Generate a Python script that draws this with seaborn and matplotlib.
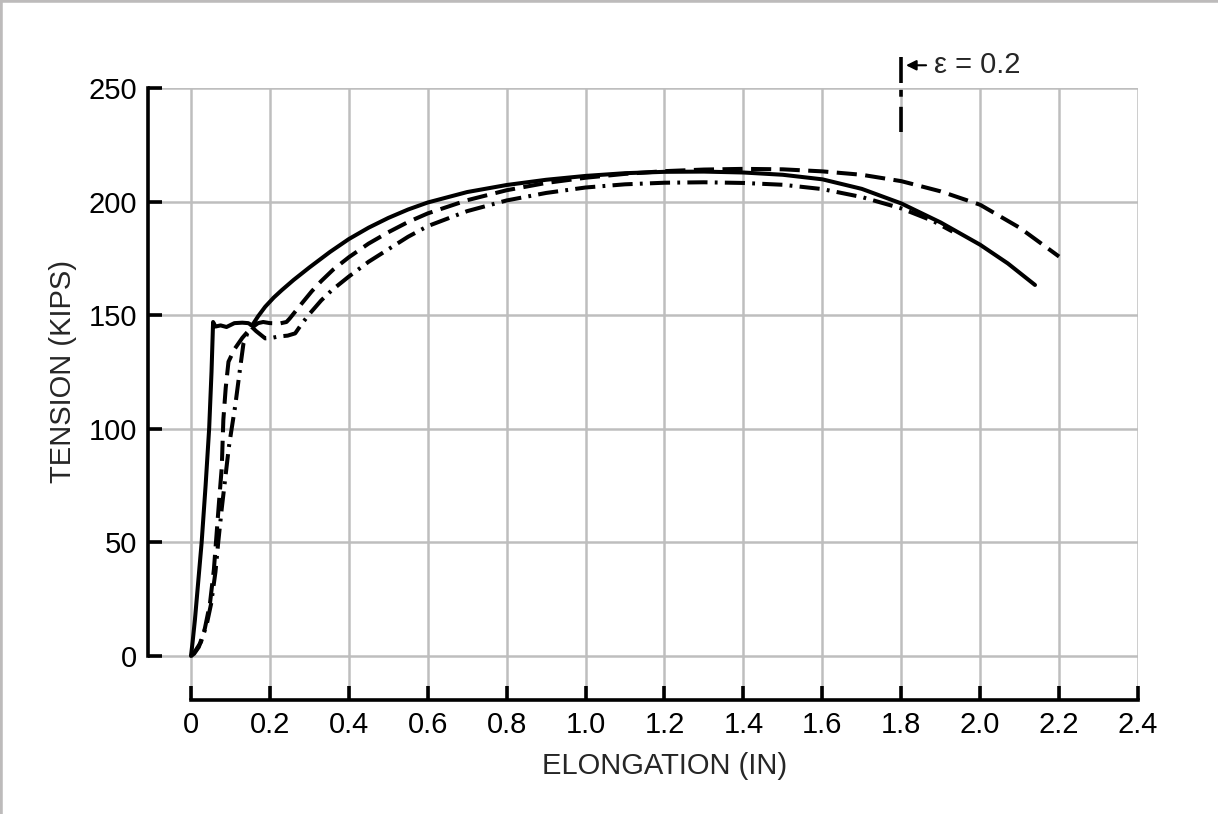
import pandas as pd
import seaborn as sns
import matplotlib.pyplot as plt
from matplotlib.lines import Line2D

# Tension vs. elongation
solid_x = [0, 0.004, 0.01, 0.018, 0.027, 0.037, 0.046, 0.052, 0.056, 0.062, 0.075, 0.09,
           0.11, 0.13, 0.145, 0.155, 0.17, 0.188, 0.21, 0.23, 0.26, 0.3, 0.352, 0.4, 0.45,
           0.5, 0.55, 0.6, 0.7, 0.8, 0.9, 1.0, 1.1, 1.2, 1.3, 1.4, 1.5, 1.6, 1.7, 1.8, 1.9,
           2.0, 2.07, 2.139]
solid_y = [0, 6, 16, 32, 50, 75, 100, 125, 147, 145, 145.5, 144.8,
           146.5, 146.7, 146.5, 145.5, 149.5, 153.7, 157.8, 161, 165.5, 171, 177.8, 183.5, 188.5,
           192.8, 196.5, 199.6, 204.2, 207.3, 209.6, 211.3, 212.5, 213.1, 213.2, 212.8, 211.8,
           209.8, 205.6, 199.2, 190.8, 181, 172.8, 163.3]

dashed_x = [0, 0.008, 0.02, 0.035, 0.048, 0.058, 0.065, 0.072, 0.078, 0.082, 0.088, 0.095,
            0.11, 0.13, 0.15, 0.17, 0.183, 0.2, 0.226, 0.242, 0.25, 0.28, 0.306, 0.33, 0.36,
            0.4, 0.45, 0.5, 0.55, 0.6, 0.7, 0.8, 0.9, 1.0, 1.1, 1.2, 1.3, 1.4, 1.5, 1.6, 1.7,
            1.8, 1.9, 2.0, 2.1, 2.2]
dashed_y = [0, 1, 4, 12, 23, 38, 54, 70, 83, 104, 118, 129.5,
            135, 140, 144, 146.5, 147, 146.5, 146.4, 147, 148.5, 155, 160.5, 165, 170,
            175.5, 181.5, 186.5, 191, 194.8, 200.6, 205, 208.2, 210.5, 212.2, 213.4, 214.1,
            214.4, 214.2, 213.3, 211.8, 209, 204.5, 198.6, 188.5, 175.8]

dashdot_x = [0, 0.01, 0.025, 0.04, 0.051, 0.062, 0.069, 0.078, 0.088, 0.096, 0.103, 0.112,
             0.124, 0.133, 0.145, 0.153, 0.165, 0.188, 0.205, 0.221, 0.245, 0.264, 0.28, 0.3,
             0.33, 0.357, 0.4, 0.45, 0.5, 0.55, 0.6, 0.7, 0.8, 0.9, 1.0, 1.1, 1.2, 1.3, 1.4,
             1.5, 1.6, 1.7, 1.8, 1.88, 1.93]
dashdot_y = [0, 2, 6, 14, 23, 37, 50, 65, 80, 92, 100, 110,
             126, 137.6, 143, 145, 143, 139.8, 140, 140.6, 141, 142, 146, 150.5,
             156.5, 161, 167, 173.5, 179, 184.5, 189.2, 195.8, 200.5, 203.8, 206.2, 207.6,
             208.3, 208.5, 208.2, 207.4, 205.5, 202, 197, 191.5, 186.8]

x_ticks = [0, 0.2, 0.4, 0.6, 0.8, 1.0, 1.2, 1.4, 1.6, 1.8, 2.0, 2.2, 2.4]
x_tick_labels = ['0', '0.2', '0.4', '0.6', '0.8', '1.0', '1.2', '1.4', '1.6', '1.8', '2.0', '2.2', '2.4']
y_ticks = [0, 50, 100, 150, 200, 250]

strain_mark_x = 1.8
strain_label = 'ε = 0.2'

df = pd.concat([
    pd.DataFrame({'elong': solid_x, 'tension': solid_y, 'record': 'solid'}),
    pd.DataFrame({'elong': dashed_x, 'tension': dashed_y, 'record': 'dashed'}),
    pd.DataFrame({'elong': dashdot_x, 'tension': dashdot_y, 'record': 'dashdot'}),
])

sns.set_style('white')
plt.rcParams['font.family'] = ['Liberation Sans', 'DejaVu Sans']

fig = plt.figure(figsize=(12.18, 8.14), dpi=100)
ax = fig.add_axes([0.1215, 0.14, 0.8128, 0.7519])

sns.lineplot(data=df, x='elong', y='tension', style='record', sort=False, estimator=None,
             dashes={'solid': '', 'dashed': (5.0, 2.1), 'dashdot': (5.0, 1.8, 0.7, 1.8)},
             color='black', lw=2.9, legend=False, ax=ax)

ax.set_xlim(-0.109, 2.4)
ax.set_ylim(-19.4, 250)
ax.set_xticks(x_ticks)
ax.set_xticklabels(x_tick_labels)
ax.set_yticks(y_ticks)
ax.set_axisbelow(True)
ax.grid(True, color='#bebebe', lw=1.8)

for side in ['top', 'right']:
    ax.spines[side].set_visible(False)
ax.spines['left'].set_bounds(0, 250)
ax.spines['bottom'].set_bounds(0, 2.4)
for side in ['left', 'bottom']:
    ax.spines[side].set_linewidth(2.6)
    ax.spines[side].set_color('black')

ax.tick_params(bottom=True, left=True, direction='in', length=10, width=2.6, color='black',
               labelsize=21, labelcolor='black', pad=8)

ax.set_xlabel('ELONGATION (IN)', fontsize=21, labelpad=9, x=0.522)
ax.set_ylabel('TENSION (KIPS)', fontsize=21, labelpad=8, y=0.536)

# strain marker above the plot (drawn top to bottom: long, short, long)
ax.plot([strain_mark_x, strain_mark_x], [263.6, 230.6], color='black', lw=2.6,
        dashes=(7.2, 1.9, 1.9, 2.8), clip_on=False)
ax.annotate('', xy=(strain_mark_x + 0.005, 260), xytext=(strain_mark_x + 0.07, 260),
            arrowprops=dict(arrowstyle='-|>', color='black', lw=1.5, mutation_scale=15),
            annotation_clip=False)
ax.text(strain_mark_x + 0.082, 260, strain_label, fontsize=21, va='center', ha='left')

# grey frame on the top and left edge
fig.add_artist(Line2D([0, 1], [1, 1], transform=fig.transFigure, color='#bdbbbb', lw=4))
fig.add_artist(Line2D([0, 0], [0, 1], transform=fig.transFigure, color='#bdbbbb', lw=4))

fig.savefig('out.png', dpi=100)
